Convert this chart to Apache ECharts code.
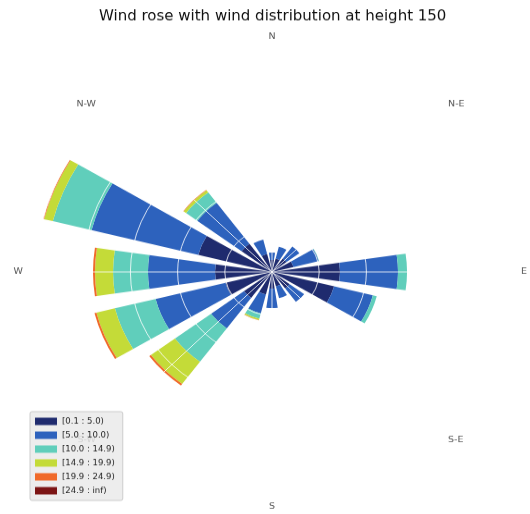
<!DOCTYPE html>
<html>
<head>
<meta charset="utf-8">
<script src="https://cdn.jsdelivr.net/npm/echarts@6/dist/echarts.min.js"></script>
<style>
    html, body { margin: 0; padding: 0; background: #fff; overflow: hidden; }
    #wrap { width: 530px; height: 514px; overflow: hidden; }
    /* the reference figure is squashed vertically, so the chart is drawn round and then scaled */
    #chart { width: 530px; height: 556px; transform: scaleY(0.925); transform-origin: 0 0; }
</style>
</head>
<body>
<div id="wrap"><div id="chart"></div></div>
<script>
const directions = ['N', 'NNE', 'NE', 'ENE', 'E', 'ESE', 'SE', 'SSE',
    'S', 'SSW', 'SW', 'WSW', 'W', 'WNW', 'NW', 'NNW'];
const compassLabels = ['N', 'N-E', 'E', 'S-E', 'S', 'S-W', 'W', 'N-W'];
const binNames = ['[0.1 : 5.0)', '[5.0 : 10.0)', '[10.0 : 14.9)',
    '[14.9 : 19.9)', '[19.9 : 24.9)', '[24.9 : inf)'];
const binColors = ['#1f2b6e', '#2d62bd', '#60cebb', '#c4db38', '#f06a2a', '#7c1515'];

// frequency (%) per direction, one array per speed bin
const freq0to5   = [0.91, 1.05, 1.26, 1.54, 4.75, 4.47, 1.54, 1.12, 1.26, 1.75, 2.44, 3.35, 3.98, 5.31, 2.65, 1.40];
const freq5to10  = [0.56, 0.91, 1.12, 1.82, 4.05, 2.79, 1.26, 0.91, 1.47, 1.47, 2.86, 5.03, 4.68, 7.68, 3.84, 1.12];
const freq10to15 = [0, 0, 0, 0.03, 0.63, 0.28, 0, 0, 0, 0.42, 3.14, 2.93, 2.44, 2.79, 0.98, 0];
const freq15to20 = [0, 0, 0, 0, 0, 0, 0, 0, 0, 0.10, 2.09, 1.33, 1.26, 0.63, 0.21, 0];
const freq20to25 = [0, 0, 0, 0, 0, 0, 0, 0, 0, 0.02, 0.14, 0.14, 0.14, 0.07, 0.03, 0];
const freq25up   = [0, 0, 0, 0, 0, 0, 0, 0, 0, 0, 0, 0, 0, 0, 0, 0];

const bins = [freq0to5, freq5to10, freq10to15, freq15to20, freq20to25, freq25up];

// windrose puts rmax at the biggest total and draws 5 rings
const totals = directions.map((d, i) => bins.reduce((s, b) => s + b[i], 0));
const rMax = Math.max(...totals);

const center = [272, 294];
const radius = 236;
const font = 'DejaVu Sans';

const chart = echarts.init(document.getElementById('chart'), null, { renderer: 'canvas' });

chart.setOption({
    animation: false,
    backgroundColor: '#fff',
    title: {
        text: 'Wind rose with wind distribution at height 150',
        left: 94,
        top: 6,
        textStyle: { fontFamily: font, fontSize: 15, fontWeight: 'normal', color: '#111' }
    },
    legend: {
        orient: 'vertical',
        left: 30,
        top: 445,
        z: 20,
        icon: 'rect',
        itemWidth: 22,
        itemHeight: 8,
        itemGap: 6,
        padding: [6, 8, 6, 5],
        backgroundColor: 'rgba(234,234,234,0.85)',
        borderColor: '#cccccc',
        borderWidth: 1,
        borderRadius: 2,
        selectedMode: false,
        data: binNames,
        textStyle: { fontFamily: font, fontSize: 8.5, color: '#222' }
    },
    polar: [
        { center: center, radius: radius },
        { center: center, radius: radius }
    ],
    angleAxis: [
        {
            polarIndex: 0,
            type: 'category',
            data: directions,
            startAngle: 90 + 360 / directions.length / 2,
            clockwise: true,
            boundaryGap: true,
            show: false
        },
        {
            polarIndex: 1,
            type: 'value',
            min: 0,
            max: 360,
            interval: 45,
            startAngle: 90,
            clockwise: true,
            z: 10,
            axisLine: { show: false },
            axisTick: { show: false },
            splitLine: { show: true, lineStyle: { color: 'rgba(255,255,255,0.8)', width: 1 } },
            axisLabel: {
                margin: 13,
                fontFamily: font,
                fontSize: 9.5,
                color: '#555',
                formatter: (v) => {
                    const i = Math.round(v / 45);
                    return i < compassLabels.length ? compassLabels[i] : '';
                }
            }
        }
    ],
    radiusAxis: [
        { polarIndex: 0, type: 'value', min: 0, max: rMax, show: false },
        {
            polarIndex: 1,
            type: 'value',
            min: 0,
            max: rMax,
            interval: rMax / 5,
            z: 10,
            axisLine: { show: false },
            axisTick: { show: false },
            axisLabel: { show: false },
            splitLine: { show: true, lineStyle: { color: 'rgba(255,255,255,0.8)', width: 1 } }
        }
    ],
    series: bins.map((vals, i) => ({
        type: 'bar',
        name: binNames[i],
        coordinateSystem: 'polar',
        polarIndex: 0,
        stack: 'wind',
        barCategoryGap: '25%',
        silent: true,
        itemStyle: { color: binColors[i] },
        data: vals
    }))
});
</script>
</body>
</html>
